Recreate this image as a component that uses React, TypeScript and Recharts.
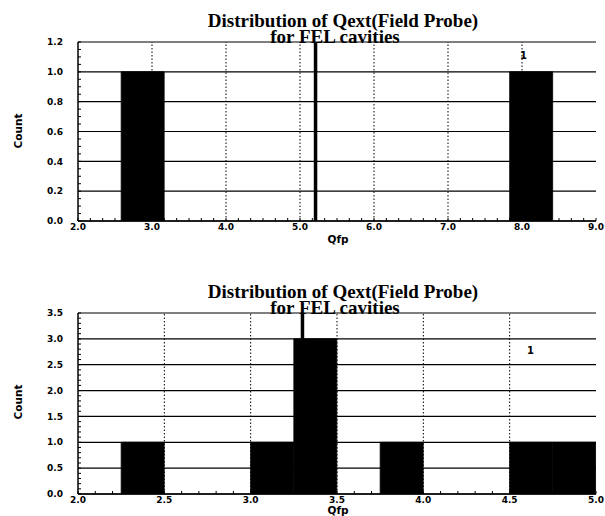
import { Bar, ComposedChart, ReferenceDot, ReferenceLine, XAxis, YAxis } from "recharts"

// top panel: Qfp from 2 to 9, 12 bins
const topCounts = [0, 1, 0, 0, 0, 0, 0, 0, 0, 0, 1, 0]
const topRange = [2, 9]
const topXLabels = [2, 3, 4, 5, 6, 7, 8, 9]
const topXGrid = [3, 4, 5, 6, 7, 8]
const topYLabels = [0, 0.2, 0.4, 0.6, 0.8, 1.0, 1.2]
const topMean = 5.21
const topNote = [8.02, 1.11]

// bottom panel: Qfp from 2 to 5, bins of 0.25
const bottomCounts = [0, 1, 0, 0, 1, 3, 0, 1, 0, 0, 1, 1]
const bottomRange = [2, 5]
const bottomXLabels = [2, 2.5, 3, 3.5, 4, 4.5, 5]
const bottomXGrid = [2.5, 3, 3.5, 4, 4.5]
const bottomYLabels = [0, 0.5, 1.0, 1.5, 2.0, 2.5, 3.0, 3.5]
const bottomMean = 3.3
const bottomNote = [4.62, 2.77]

const titleLines = ["Distribution of Qext(Field Probe)", "for FEL cavities"]

const sans = "'DejaVu Sans', sans-serif"
const tickFont = { fontFamily: sans, fontWeight: "bold", fontSize: 9, fill: "#000" }

function steps(lo: number, hi: number, n: number) {
  const out: number[] = []
  for (let i = 0; i <= n; i++) out.push(lo + ((hi - lo) * i) / n)
  return out
}

function labelOnly(labels: number[]) {
  return (v: number) => (labels.some((l) => Math.abs(l - v) < 1e-6) ? v.toFixed(1) : "")
}

type HistProps = {
  counts: number[]
  range: number[]
  xLabels: number[]
  xMinor: number
  xGrid: number[]
  yLabels: number[]
  yMinor: number
  mean: number
  note: number[]
  height: number
  axisHeight: number
}

function Histogram(p: HistProps) {
  const [lo, hi] = p.range
  const w = (hi - lo) / p.counts.length
  const data = p.counts.map((count, i) => ({ mid: lo + (i + 0.5) * w, count }))
  const yMax = p.yLabels[p.yLabels.length - 1]
  const xTicks = steps(lo, hi, p.xMinor)
  const yTicks = steps(0, yMax, p.yMinor)
  const line = { stroke: "#000", strokeWidth: 1.5 }
  return (
    <ComposedChart width={605} height={p.height} data={data} margin={{ top: 42, right: 9, bottom: 0, left: 0 }} barCategoryGap={0} barGap={0}>
      <XAxis xAxisId="q" dataKey="mid" type="number" domain={[lo, hi]} allowDataOverflow ticks={xTicks} interval={0} tickFormatter={labelOnly(p.xLabels)} height={p.axisHeight} tickSize={-3} tickMargin={6} stroke="#000" axisLine={line} tick={tickFont} />
      <XAxis xAxisId="top" orientation="top" dataKey="mid" type="number" domain={[lo, hi]} allowDataOverflow ticks={xTicks} interval={0} tick={false} height={0} tickSize={-3} stroke="#000" axisLine={line} />
      <YAxis yAxisId="c" type="number" domain={[0, yMax]} allowDataOverflow ticks={yTicks} interval={0} tickFormatter={labelOnly(p.yLabels)} width={78} tickSize={-3} tickMargin={18} stroke="#000" axisLine={line} tick={tickFont} />
      <YAxis yAxisId="r" orientation="right" type="number" domain={[0, yMax]} allowDataOverflow ticks={yTicks} interval={0} tick={false} width={0} tickSize={-3} stroke="#000" axisLine={line} />
      {p.yLabels.map((v) => (
        <ReferenceLine key={"h" + v} xAxisId="q" yAxisId="c" y={v} stroke="#000" strokeWidth={1.2} />
      ))}
      {p.xGrid.map((v) => (
        <ReferenceLine key={"v" + v} xAxisId="q" yAxisId="c" x={v} stroke="#000" strokeDasharray="1.5 2" />
      ))}
      <Bar xAxisId="q" yAxisId="c" dataKey="count" fill="#000" stroke="#000" strokeWidth={0.8} isAnimationActive={false} />
      <ReferenceLine xAxisId="q" yAxisId="c" x={p.mean} stroke="#000" strokeWidth={3.5} />
      <ReferenceDot xAxisId="q" yAxisId="c" x={p.note[0]} y={p.note[1]} r={0} label={{ value: "1", position: "center", fontFamily: sans, fontWeight: "bold", fontSize: 10, fill: "#000" }} />
    </ComposedChart>
  )
}

function Panel({ top, children, qfpY }: { top: number; children: React.ReactNode; qfpY: number }) {
  const title: React.CSSProperties = { position: "absolute", width: 605, textAlign: "center", fontFamily: "'Liberation Serif', serif", fontWeight: "bold", fontSize: 19, lineHeight: "19px", color: "#000", whiteSpace: "nowrap" }
  const axisText: React.CSSProperties = { position: "absolute", fontFamily: sans, fontWeight: "bold", fontSize: 10.5, lineHeight: "12px", color: "#000" }
  return (
    <div style={{ position: "absolute", left: 0, top, width: 605 }}>
      {children}
      <div style={{ ...title, left: 343 - 302.5, top: 11 }}>{titleLines[0]}</div>
      <div style={{ ...title, left: 335 - 302.5, top: 27 }}>{titleLines[1]}</div>
      <div style={{ ...axisText, left: 18, top: 131, transform: "translate(-50%, -50%) rotate(-90deg)" }}>Count</div>
      <div style={{ ...axisText, left: 338, top: qfpY, transform: "translateX(-50%)" }}>Qfp</div>
    </div>
  )
}

export default function App() {
  return (
    <div style={{ position: "absolute", left: 0, top: 0, width: 605, height: 516, overflow: "hidden", background: "#fff" }}>
      <Panel top={0} qfpY={233}>
        <Histogram counts={topCounts} range={topRange} xLabels={topXLabels} xMinor={42} xGrid={topXGrid} yLabels={topYLabels} yMinor={24} mean={topMean} note={topNote} height={250} axisHeight={29} />
      </Panel>
      <Panel top={271} qfpY={233}>
        <Histogram counts={bottomCounts} range={bottomRange} xLabels={bottomXLabels} xMinor={30} xGrid={bottomXGrid} yLabels={bottomYLabels} yMinor={35} mean={bottomMean} note={bottomNote} height={245} axisHeight={22} />
      </Panel>
    </div>
  )
}
